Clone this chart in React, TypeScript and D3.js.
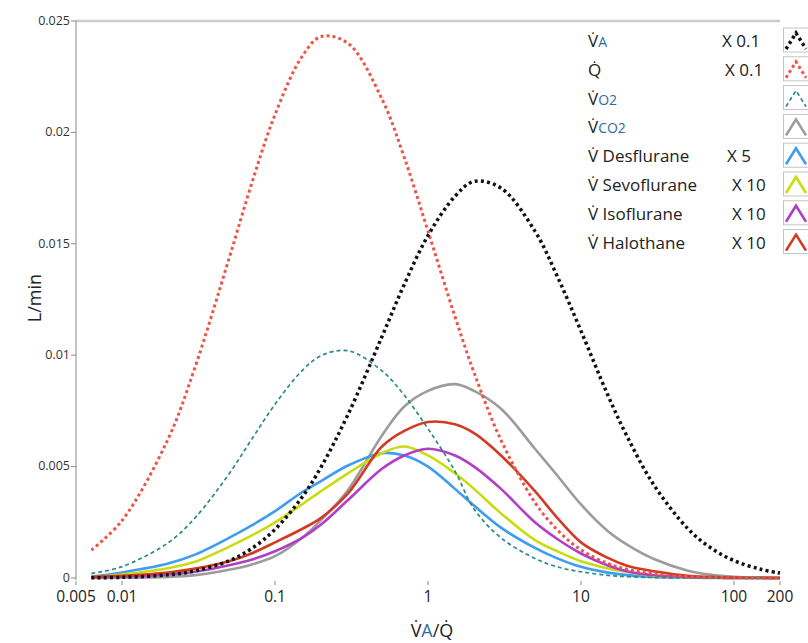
import * as d3 from "d3";

// x = VA/Q ratio, y = L/min
const ratios = [0.0063, 0.01, 0.02, 0.03, 0.05, 0.07, 0.1, 0.15, 0.2, 0.3, 0.5, 0.7, 1, 1.5, 2, 3, 5, 7, 10, 15, 20, 30, 50, 70, 100, 150, 200];

const vaValues = [0.00001, 0.00003, 0.00014, 0.00032, 0.00077, 0.00131, 0.00218, 0.00362, 0.00498, 0.00734, 0.01083, 0.01318, 0.01537, 0.01713, 0.0178, 0.0175, 0.01557, 0.01354, 0.01109, 0.0082, 0.00636, 0.00417, 0.00221, 0.00137, 0.00078, 0.00039, 0.00022];
const qValues = [0.00125, 0.00258, 0.00624, 0.00946, 0.01433, 0.01765, 0.0208, 0.0234, 0.0243, 0.024, 0.0215, 0.01887, 0.01557, 0.01174, 0.00922, 0.00619, 0.00339, 0.00216, 0.00126, 0.00065, 0.00039, 0.00018, 0.00006, 0.00003, 0.00001, 0, 0];
const vo2Values = [0.0002, 0.00051, 0.00158, 0.0027, 0.00467, 0.0062, 0.0078, 0.0093, 0.00998, 0.0102, 0.0093, 0.0082, 0.0067, 0.0048, 0.0031, 0.0018, 0.00088, 0.0005, 0.00028, 0.00012, 0.00006, 0.00002, 0, 0, 0, 0, 0];
const vco2Values = [0, 0.00001, 0.00005, 0.00013, 0.00037, 0.0006, 0.00098, 0.0018, 0.0026, 0.00395, 0.0064, 0.0077, 0.0084, 0.0087, 0.0084, 0.0076, 0.0058, 0.0046, 0.0033, 0.0021, 0.0015, 0.00085, 0.00033, 0.00015, 0.00005, 0.00001, 0];
const desValues = [0.00006, 0.00025, 0.00065, 0.00105, 0.0018, 0.00235, 0.003, 0.00385, 0.00435, 0.00505, 0.0056, 0.0055, 0.005, 0.004, 0.00325, 0.00226, 0.00135, 0.00088, 0.0005, 0.00024, 0.00013, 0.00005, 0.00002, 0, 0, 0, 0];
const sevoValues = [0.00005, 0.00016, 0.00044, 0.00073, 0.0014, 0.0019, 0.0025, 0.0033, 0.0039, 0.0047, 0.0056, 0.0059, 0.0055, 0.0047, 0.004, 0.0029, 0.0017, 0.0012, 0.00075, 0.00043, 0.00027, 0.0001, 0.00003, 0.00001, 0, 0, 0];
const isoValues = [0.00003, 0.00006, 0.00016, 0.00028, 0.00057, 0.00082, 0.0012, 0.0018, 0.0024, 0.0035, 0.0049, 0.0055, 0.0058, 0.0055, 0.005, 0.004, 0.0025, 0.00175, 0.0011, 0.00056, 0.0003, 0.00012, 0.00004, 0.00002, 0, 0, 0];
const haloValues = [0.00005, 0.0001, 0.00025, 0.00042, 0.00075, 0.0011, 0.0016, 0.0022, 0.0027, 0.0038, 0.0059, 0.0066, 0.007, 0.0069, 0.0065, 0.0055, 0.0039, 0.0027, 0.0016, 0.0009, 0.00055, 0.0003, 0.0001, 0.00005, 0.00002, 0.00001, 0];

const seriesLetter = ["V", "Q", "V", "V", "V", "V", "V", "V"];
const seriesSub = ["A", "", "O2", "CO2", "", "", "", ""];
const seriesName = ["", "", "", "", " Desflurane", " Sevoflurane", " Isoflurane", " Halothane"];
const seriesFactor = ["X 0.1", "X 0.1", "", "", "X 5", "X 10", "X 10", "X 10"];

const xTicks = [0.005, 0.01, 0.1, 1, 10, 100, 200];
const yTicks = [0, 0.005, 0.01, 0.015, 0.02, 0.025];

const series = [
  { values: vaValues, color: "#111111", width: 3.5, dash: "3 3.2" },
  { values: qValues, color: "#ef5347", width: 3, dash: "3 3" },
  { values: vo2Values, color: "#2a8a88", width: 1.7, dash: "4 3" },
  { values: vco2Values, color: "#9c9c9c", width: 2.6, dash: null },
  { values: desValues, color: "#3d9ef0", width: 2.6, dash: null },
  { values: sevoValues, color: "#c9dc10", width: 2.6, dash: null },
  { values: isoValues, color: "#b03ec6", width: 2.6, dash: null },
  { values: haloValues, color: "#d23a22", width: 2.6, dash: null },
];

const drawOrder = [3, 4, 5, 6, 7, 2, 1, 0];
const subColor = "#2e6e96";
const font = "'Open Sans', 'DejaVu Sans', sans-serif";

export default function App() {
  const width = 808;
  const height = 643;
  const x = d3.scaleLog().domain([0.005, 200]).range([76, 780]);
  const y = d3.scaleLinear().domain([0, 0.025]).range([578, 21]);

  const line = d3
    .line<number>()
    .x((d, i) => x(ratios[i]))
    .y((d) => y(d))
    .curve(d3.curveCatmullRom.alpha(0.5));

  const rowY = (i: number) => 47 + i * 28.8;
  const factorX = [722, 725, 0, 0, 727, 732, 732, 732];

  return (
    <svg width={width} height={height} style={{ position: "absolute", left: 0, top: 0, background: "#fff" }} fontFamily={font}>
      {/* frame */}
      <line x1={76} x2={780} y1={21} y2={21} stroke="#cccccc" strokeWidth={2.5} />
      <line x1={76} x2={76} y1={20} y2={580} stroke="#b0b0b0" strokeWidth={1.5} />

      {yTicks.map((t) => (
        <g key={t}>
          <line x1={71} x2={76} y1={y(t)} y2={y(t)} stroke="#888" strokeWidth={1} />
          <text x={70} y={y(t)} dy="0.3em" textAnchor="end" fontSize={12.5} fill="#333">
            {t === 0 ? "0" : String(t)}
          </text>
        </g>
      ))}

      {xTicks.map((t) => (
        <g key={t}>
          <line x1={x(t)} x2={x(t)} y1={581} y2={585} stroke="#888" strokeWidth={1} />
          <text x={x(t)} y={602} textAnchor="middle" fontSize={15.5} fill="#222">
            {String(t)}
          </text>
        </g>
      ))}

      {drawOrder.map((k) => {
        const s = series[k];
        return (
          <path
            key={k}
            d={line(s.values) || ""}
            fill="none"
            stroke={s.color}
            strokeWidth={s.width}
            strokeDasharray={s.dash || undefined}
          />
        );
      })}

      {/* legend */}
      {series.map((s, i) => {
        const by = rowY(i);
        const top = by - 19;
        return (
          <g key={i}>
            <text x={588} y={by} fontSize={17} fill="#222">
              {seriesLetter[i] + "\u0307"}
              {seriesSub[i] && (
                <tspan fill={subColor} fontSize={14}>
                  {seriesSub[i]}
                </tspan>
              )}
              {seriesName[i]}
            </text>
            {seriesFactor[i] && (
              <text x={factorX[i]} y={by} fontSize={17} fill="#222">
                {seriesFactor[i]}
              </text>
            )}
            <rect x={783.5} y={top} width={30} height={24} fill="#fff" stroke="#c4c4c4" strokeWidth={1} />
            <path
              d={`M786,${top + 21} L796,${top + 5} L806,${top + 21}`}
              fill="none"
              stroke={s.color}
              strokeWidth={s.width}
              strokeDasharray={s.dash || undefined}
            />
          </g>
        );
      })}

      {/* axis titles */}
      <text transform="translate(41,298) rotate(-90)" textAnchor="middle" fontSize={18} fill="#222">
        L/min
      </text>
      <text x={432} y={637} textAnchor="middle" fontSize={18} fill="#222">
        {"V\u0307"}
        <tspan fill={subColor}>A</tspan>
        {"/Q\u0307"}
      </text>
    </svg>
  );
}
